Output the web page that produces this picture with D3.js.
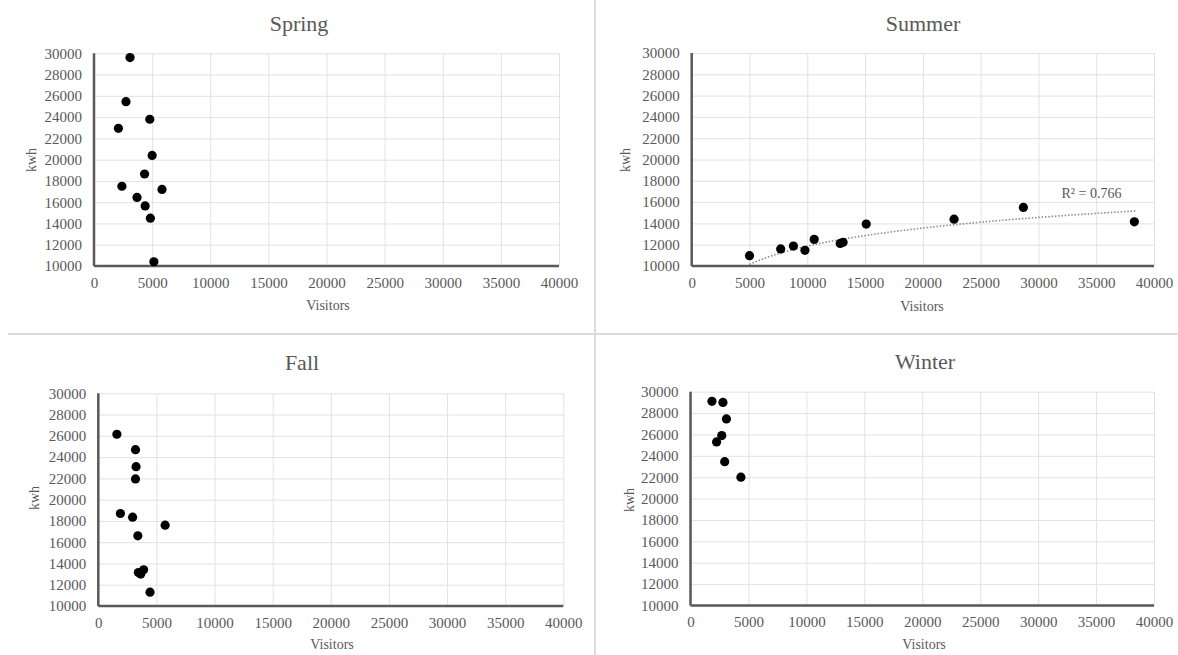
<!DOCTYPE html>
<html>
<head>
<meta charset="utf-8">
<script src="https://cdn.jsdelivr.net/npm/d3@7"></script>
<style>
  body { margin: 0; background: #fff; }
  svg text { font-family: "Liberation Serif", "Times New Roman", serif; fill: #595959; }
  .grid line { stroke: #e2e2e2; stroke-width: 1; }
</style>
</head>
<body>
<div id="chart"></div>
<script>
// tick values shared by every panel
const xTicks = [0, 5000, 10000, 15000, 20000, 25000, 30000, 35000, 40000]
const yTicks = [10000, 12000, 14000, 16000, 18000, 20000, 22000, 24000, 26000, 28000, 30000]

// values
const springVisitors = [3100, 2750, 4800, 2100, 5000, 4350, 2400, 5850, 3700, 4400, 4850, 5150]
const springKwh      = [29600, 25450, 23800, 22950, 20400, 18650, 17500, 17200, 16450, 15650, 14500, 10400]

const summerVisitors = [5000, 7700, 8800, 9800, 10600, 12850, 13100, 15100, 22700, 28700, 38300]
const summerKwh      = [10970, 11600, 11870, 11470, 12500, 12120, 12220, 13940, 14400, 15500, 14150]

const fallVisitors = [1600, 3200, 3250, 3200, 1900, 2950, 5750, 3400, 3900, 3450, 3650, 4450]
const fallKwh      = [26150, 24700, 23100, 21950, 18700, 18350, 17600, 16600, 13400, 13150, 13000, 11300]

const winterVisitors = [1850, 2800, 3100, 2700, 2250, 2950, 4350]
const winterKwh      = [29100, 29000, 27450, 25900, 25300, 23450, 22000]

// logarithmic trend line on the summer panel: kwh = a + b * ln(visitors)
const summerTrendA = -10819
const summerTrendB = 2462
const summerTrendRange = [5000, 38400]
const summerR2Label = 'R² = 0.766'

const width = 1178, height = 655

const svg = d3.select('#chart').append('svg')
  .attr('width', width)
  .attr('height', height)

// panel dividers
svg.append('line')
  .attr('x1', 595).attr('x2', 595).attr('y1', 0).attr('y2', height)
  .attr('stroke', '#dcdcdc').attr('stroke-width', 2)
svg.append('line')
  .attr('x1', 8).attr('x2', width).attr('y1', 334).attr('y2', 334)
  .attr('stroke', '#dcdcdc').attr('stroke-width', 2)

const panels = [
  {title: 'Spring', visitors: springVisitors, kwh: springKwh,
   left: 94, right: 559, top: 53.3, bottom: 266,
   titleX: 299, titleY: 31, xLabelX: 328, xLabelY: 310, yLabelX: 36, yLabelY: 160},
  {title: 'Summer', visitors: summerVisitors, kwh: summerKwh,
   left: 691.7, right: 1154, top: 53, bottom: 266,
   titleX: 923, titleY: 31, xLabelX: 922, xLabelY: 311, yLabelX: 630, yLabelY: 160, trend: true},
  {title: 'Fall', visitors: fallVisitors, kwh: fallKwh,
   left: 98.3, right: 563.3, top: 393.3, bottom: 606,
   titleX: 302, titleY: 370, xLabelX: 332, xLabelY: 649, yLabelX: 39, yLabelY: 498},
  {title: 'Winter', visitors: winterVisitors, kwh: winterKwh,
   left: 690.5, right: 1154, top: 391.7, bottom: 605.5,
   titleX: 925, titleY: 369, xLabelX: 924, xLabelY: 649, yLabelX: 634, yLabelY: 500}
]

const tickFont = g => g
  .attr('font-size', 15)
  .attr('font-family', '"Liberation Serif", "Times New Roman", serif')

panels.forEach(p => {
  let x = d3.scaleLinear().domain([0, 40000]).range([p.left, p.right])
  let y = d3.scaleLinear().domain([10000, 30000]).range([p.bottom, p.top])
  let g = svg.append('g')

  // gridlines
  g.append('g').attr('class', 'grid')
    .attr('transform', 'translate(0,' + p.bottom + ')')
    .call(d3.axisBottom(x).tickValues(xTicks).tickSize(-(p.bottom - p.top)).tickFormat(''))
    .call(a => a.select('.domain').remove())
  g.append('g').attr('class', 'grid')
    .attr('transform', 'translate(' + p.left + ',0)')
    .call(d3.axisLeft(y).tickValues(yTicks).tickSize(-(p.right - p.left)).tickFormat(''))
    .call(a => a.select('.domain').remove())

  // tick labels
  g.append('g')
    .attr('transform', 'translate(0,' + p.bottom + ')')
    .call(d3.axisBottom(x).tickValues(xTicks).tickSize(0).tickPadding(11).tickFormat(d3.format('d')))
    .call(a => a.select('.domain').remove())
    .call(tickFont)
  g.append('g')
    .attr('transform', 'translate(' + p.left + ',0)')
    .call(d3.axisLeft(y).tickValues(yTicks).tickSize(0).tickPadding(12).tickFormat(d3.format('d')))
    .call(a => a.select('.domain').remove())
    .call(tickFont)

  // axis lines
  g.append('line')
    .attr('x1', x(0)).attr('x2', x(40000)).attr('y1', y(10000)).attr('y2', y(10000))
    .attr('stroke', '#595959').attr('stroke-width', 2.5)
  g.append('line')
    .attr('x1', x(0)).attr('x2', x(0)).attr('y1', y(10000)).attr('y2', y(30000))
    .attr('stroke', '#595959').attr('stroke-width', 2.5)

  // titles
  g.append('text')
    .attr('x', p.titleX).attr('y', p.titleY)
    .attr('text-anchor', 'middle')
    .attr('font-size', 22)
    .text(p.title)
  g.append('text')
    .attr('x', p.xLabelX).attr('y', p.xLabelY)
    .attr('text-anchor', 'middle')
    .attr('font-size', 14)
    .text('Visitors')
  g.append('text')
    .attr('transform', 'translate(' + p.yLabelX + ',' + p.yLabelY + ') rotate(-90)')
    .attr('text-anchor', 'middle')
    .attr('font-size', 14)
    .text('kwh')

  if (p.trend) {
    let trendLine = d3.line()
      .x(d => x(d))
      .y(d => y(summerTrendA + summerTrendB * Math.log(d)))
    let xs = d3.range(summerTrendRange[0], summerTrendRange[1], 200).concat([summerTrendRange[1]])
    g.append('path')
      .datum(xs)
      .attr('d', trendLine)
      .attr('fill', 'none')
      .attr('stroke', '#8c8c8c')
      .attr('stroke-width', 1.6)
      .attr('stroke-dasharray', '1.5,1.8')
    g.append('text')
      .attr('x', x(32000)).attr('y', y(16800))
      .attr('dy', '0.35em')
      .attr('font-size', 14)
      .text(summerR2Label)
  }

  // points
  g.selectAll('.dot')
    .data(p.visitors.map((v, i) => [v, p.kwh[i]]))
    .enter().append('circle')
    .attr('class', 'dot')
    .attr('cx', d => x(d[0]))
    .attr('cy', d => y(d[1]))
    .attr('r', 4.6)
    .attr('fill', '#000')
})
</script>
</body>
</html>
